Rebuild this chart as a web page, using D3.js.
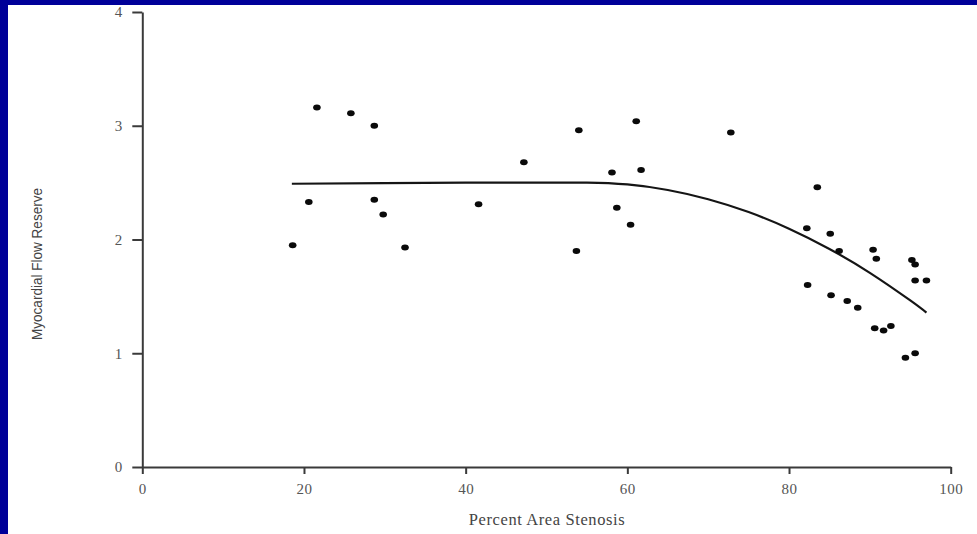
<!DOCTYPE html>
<html>
<head>
<meta charset="utf-8">
<script src="https://cdn.jsdelivr.net/npm/d3@7"></script>
<style>
html,body{margin:0;padding:0;background:#fff;}
svg{display:block;}
</style>
</head>
<body>
<svg id="chart" width="977" height="534"></svg>
<script>
// Data
const stenosis = [18.6,20.6,21.6,25.8,28.7,28.7,29.8,32.5,41.6,47.2,53.7,54.0,58.1,58.7,60.4,61.1,61.7,72.8,82.2,82.3,83.5,85.1,86.2,85.2,87.2,88.5,90.4,90.8,90.6,91.7,92.6,94.4,95.6,95.2,95.6,95.6,97.0];
const flowReserve = [1.95,2.33,3.16,3.11,3.00,2.35,2.22,1.93,2.31,2.68,1.90,2.96,2.59,2.28,2.13,3.04,2.61,2.94,2.10,1.60,2.46,2.05,1.90,1.51,1.46,1.40,1.91,1.83,1.22,1.20,1.24,0.96,1.00,1.82,1.78,1.64,1.64];
const fitX = [18.5,30,40,50,55,60,65,70,75,80,85,90,95,97];
const fitY = [2.49,2.495,2.5,2.5,2.5,2.484,2.435,2.354,2.241,2.095,1.917,1.707,1.464,1.357];
const xTicks = [0,20,40,60,80,100];
const yTicks = [0,1,2,3,4];
const xTitle = "Percent Area Stenosis";
const yTitle = "Myocardial Flow Reserve";

const svg = d3.select("#chart");
// blue frame
svg.append("rect").attr("x",0).attr("y",0).attr("width",977).attr("height",534).attr("fill","#000099");
svg.append("rect").attr("x",8).attr("y",5).attr("width",969).attr("height",529).attr("fill","#ffffff");

const x = d3.scaleLinear().domain([0,100]).range([142.3,950.7]);
const y = d3.scaleLinear().domain([0,4]).range([467,12]);

const axisColor = "#3a3a3a";
const tickFont = "'Liberation Serif','DejaVu Serif',serif";

// x axis
const gx = svg.append("g").attr("transform","translate(0,"+y(0)+")")
  .call(d3.axisBottom(x).tickValues(xTicks).tickFormat(d3.format("d")).tickSize(7).tickSizeOuter(0).tickPadding(9));
// y axis
const gy = svg.append("g").attr("transform","translate("+x(0)+",0)")
  .call(d3.axisLeft(y).tickValues(yTicks).tickFormat(d3.format("d")).tickSize(10).tickSizeOuter(0).tickPadding(10));

[gx,gy].forEach(g=>{
  g.select(".domain").attr("stroke",axisColor).attr("stroke-width",2);
  g.selectAll(".tick line").attr("stroke",axisColor).attr("stroke-width",2);
  g.selectAll(".tick text").attr("fill","#555").attr("font-family",tickFont).attr("font-size","15px");
});
gx.selectAll(".tick text").attr("letter-spacing","0.5px");

// fitted curve
const line = d3.line().x(d=>x(d[0])).y(d=>y(d[1])).curve(d3.curveNatural);
svg.append("path").datum(fitX.map((v,i)=>[v,fitY[i]]))
  .attr("d",line).attr("fill","none").attr("stroke","#151515").attr("stroke-width",2.2);

// points
svg.append("g").selectAll("ellipse").data(stenosis.map((v,i)=>[v,flowReserve[i]])).join("ellipse")
  .attr("cx",d=>x(d[0])).attr("cy",d=>y(d[1])).attr("rx",3.8).attr("ry",3).attr("fill","#0a0a0a");

// titles
svg.append("text").attr("x",547).attr("y",525).attr("text-anchor","middle")
  .attr("font-family",tickFont).attr("font-size","16.5px").attr("fill","#444")
  .attr("letter-spacing","0.6px").text(xTitle);
svg.append("text").attr("transform","translate(42,264) rotate(-90)").attr("text-anchor","middle")
  .attr("font-family","'Liberation Sans Narrow','Arial Narrow','Liberation Sans',sans-serif")
  .attr("font-size","15px").attr("fill","#444")
  .attr("textLength",152).attr("lengthAdjust","spacingAndGlyphs").text(yTitle);
</script>
</body>
</html>
